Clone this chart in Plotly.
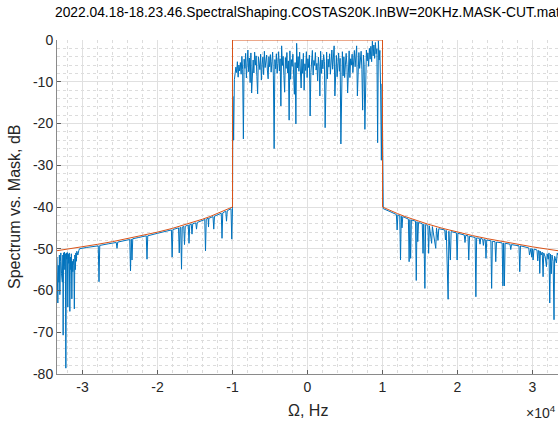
import numpy as np
import plotly.graph_objects as go

TITLE = "2022.04.18-18.23.46.SpectralShaping.COSTAS20K.InBW=20KHz.MASK-CUT.mat"

# Spectral mask (Hz, dB)
mask_freq = [-33400, -32000, -30000, -28000, -26000, -24000, -22000, -20000,
             -18000, -16000, -15000, -14000, -13000, -12000, -11000, -10000,
             -10000, 10000,
             10000, 11000, 12000, 13000, 14000, 15000, 16000, 18000,
             20000, 22000, 24000, 26000, 28000, 30000, 32000, 33400]
mask_db = [-50.47, -50.10, -49.54, -48.94, -48.30, -47.60, -46.85, -46.02,
           -45.11, -44.08, -43.52, -42.92, -42.28, -41.58, -40.83, -40.00,
           0.0, 0.0,
           -40.00, -40.83, -41.58, -42.28, -42.92, -43.52, -44.08, -45.11,
           -46.02, -46.85, -47.60, -48.30, -48.94, -49.54, -50.10, -50.47]

# Measured spectrum, lower stop band (Hz, dB)
low_freq = [-33400, -33350, -33290, -33220, -33150, -33080, -33020, -32950,
            -32890, -32800, -32690, -32620, -32580, -32530, -32490, -32420,
            -32360, -32290, -32220, -32150, -32090, -32020, -31960, -31890,
            -31820, -31760, -31690, -31620, -31560, -31490, -31420, -31360,
            -31290, -31220, -31150, -31090, -31020, -30950, -30890, -30820,
            -30760, -30620, -30490, -30400,
            -29500, -28500, -27900, -27800, -27700, -26500, -25500, -25400,
            -25300, -24000, -23700, -23600, -23500, -23400, -23300, -22500,
            -21500, -21400, -21300, -20000, -19000, -18150, -18050, -17950,
            -17200, -17100, -17000, -16900, -16800, -16700, -16500, -16400,
            -16300, -15900, -15800, -15700, -15500, -15400, -15300, -14900,
            -14800, -14700, -13700, -13600, -13500, -13250, -13200, -13150,
            -12600, -12500, -12400, -11500, -11400, -11300, -10900, -10800,
            -10700, -10200, -10100, -10000]
low_db = [-52.0, -60.5, -63.0, -54.0, -58.0, -51.5, -61.0, -53.0,
          -51.0, -56.0, -58.0, -51.5, -70.7, -51.0, -54.0, -50.8,
          -55.0, -51.2, -78.6, -51.0, -52.5, -50.9, -64.0, -51.3,
          -53.5, -51.0, -65.0, -52.0, -55.0, -51.2, -62.0, -53.0,
          -55.5, -52.5, -54.0, -64.4, -51.5, -55.0, -51.0, -53.0,
          -50.6, -51.5, -50.4, -50.0,
          -49.7, -49.4, -49.3, -57.9, -49.2, -48.8, -48.5, -49.9,
          -48.4, -47.9, -47.8, -55.3, -47.7, -52.7, -47.6, -47.3,
          -46.9, -52.5, -46.9, -46.3, -45.9, -45.5, -52.0, -45.4,
          -45.0, -51.0, -44.9, -44.9, -54.9, -44.8, -44.6, -49.0,
          -44.6, -44.3, -48.7, -44.2, -44.1, -46.5, -44.0, -43.8,
          -45.3, -43.7, -43.0, -50.5, -42.9, -42.7, -44.8, -42.7,
          -42.3, -45.3, -42.2, -41.5, -47.5, -41.4, -41.0, -43.4,
          -40.9, -40.4, -47.7, -40.3]

# Measured spectrum, pass band: 100 Hz bins from -9950 Hz to +9950 Hz (dB)
pass_start_hz = -9950
pass_step_hz = 100
pass_db = [
    -13.5, -24.0, -9.5, -8.0, -6.5, -7.8, -5.2, -8.9, -6.0, -7.4,
    -5.4, -8.2, -3.9, -7.0, -23.7, -4.6, -6.8, -3.2, -9.1, -5.5,
    -2.4, -7.6, -4.3, -10.2, -3.1, -12.7, -5.5, -4.8, -7.9, -2.9,
    -6.0, -3.8, -8.7, -12.9, -4.0, -6.2, -7.1, -3.4, -9.6, -5.9,
    -4.1, -8.3, -2.7, -6.6, -5.3, -3.6, -7.2, -9.3, -4.0, -6.4,
    -3.5, -7.7, -5.2, -2.9, -8.6, -26.0, -4.7, -6.9, -3.3, -8.0,
    -5.6, -2.8, -7.4, -4.5, -15.8, -1.4, -6.1, -3.9, -8.5, -12.5,
    -4.2, -6.8, -3.0, -7.9, -5.0, -19.2, -2.6, -9.4, -4.7, -6.3,
    -3.4, -8.1, -13.0, -5.4, -20.1, -0.8, -6.7, -4.0, -7.5, -2.9,
    -6.2, -11.5, -4.6, -8.0, -3.2, -12.0, -5.7, -7.3, -2.8, -9.0,
    -4.5, -6.6, -3.6, -18.2, -7.8, -5.1, -2.5, -8.4, -4.9, -6.1,
    -3.0, -7.2, -5.6, -9.8, -4.1, -6.3, -13.4, -2.7, -8.0, -4.8,
    -6.9, -3.5, -5.2, -21.0, -7.7, -2.9, -9.3, -4.6, -6.5, -3.3,
    -8.2, -5.0, -2.4, -7.0, -4.3, -1.4, -13.4, -6.0, -3.7, -8.8,
    -5.3, -3.1, -7.5, -4.4, -24.9, -6.2, -2.8, -8.6, -4.0, -9.0,
    -6.7, -3.2, -5.8, -12.7, -7.9, -2.6, -9.0, -4.5, -6.0, -3.4,
    -7.8, -4.9, -2.5, -6.4, -4.0, -1.4, -13.4, -8.2, -3.0, -6.8,
    -4.2, -2.7, -7.1, -16.8, -3.6, -5.9, -21.4, -14.8, -2.4, -5.0,
    -3.1, -6.3, -2.0, -4.6, -1.5, -5.2, -0.3, -3.8, -1.2, -4.4,
    -0.6, -3.3, -2.1, -24.6, -0.2, -4.8, -2.5, -12.0, -28.8, -10.5,
]

# Measured spectrum, upper stop band (Hz, dB)
high_freq = [10000, 10100, 11000, 11850, 11950, 12050, 12300, 12400, 12500,
             12600, 12700, 13450, 13550, 13650, 13750, 13850, 14400, 14500,
             14600, 14700, 14800, 15300, 15400, 15500, 15650, 15750, 16050,
             16150, 16250, 16550, 16650, 17100, 17200, 17400, 17500, 18300,
             18400, 18500, 18750, 18850, 19050, 19150, 19850, 19950, 20050,
             20900, 21000, 21100, 21400, 21500, 21600, 22350, 22450, 22550,
             22900, 23000, 23100, 23350, 23450, 23550, 23700, 23800, 23900,
             24450, 24550, 24650, 25000, 25100, 25200, 25950, 26050, 26150,
             26250, 26350, 27000, 27100, 27200, 28200, 28300, 28400, 29500,
             29600, 29800, 29900, 30000, 30080, 30200, 30600, 30700, 30800,
             30900, 30970, 31050, 31150, 31300, 31410, 31500, 31700, 31860,
             31950, 32100, 32200, 32300, 32400, 32500, 32600, 32750, 32870,
             32950, 33100, 33190, 33300, 33400]
high_db = [-36.0, -40.4, -41.1, -41.8, -45.5, -41.9, -42.1, -52.7, -42.2,
           -45.0, -42.3, -42.9, -53.1, -43.0, -52.3, -43.1, -43.4, -57.6,
           -43.5, -48.3, -43.7, -44.0, -51.1, -44.1, -59.5, -44.2, -44.4,
           -51.1, -44.5, -48.7, -44.7, -49.9, -45.0, -48.0, -45.2, -45.5,
           -47.9, -45.6, -62.1, -45.8, -52.7, -45.9, -46.2, -52.7, -46.3,
           -46.7, -48.5, -46.8, -46.9, -52.7, -47.0, -47.3, -61.5, -47.4,
           -47.5, -48.9, -47.5, -47.7, -49.2, -47.7, -47.8, -52.3, -47.9,
           -48.1, -59.5, -48.2, -48.3, -53.1, -48.4, -48.6, -58.9, -48.6,
           -58.9, -48.7, -48.9, -50.2, -49.0, -49.3, -55.5, -49.3, -49.8,
           -51.5, -49.9, -52.0, -50.0, -52.7, -50.1, -50.3, -52.9, -50.4,
           -50.5, -55.9, -50.6, -51.5, -50.8, -56.7, -51.0, -52.0, -54.3,
           -51.2, -52.5, -51.0, -63.0, -51.3, -56.0, -51.5, -53.0, -67.0,
           -51.8, -52.5, -53.4, -51.0, -51.5]

pass_freq = [pass_start_hz + pass_step_hz * k for k in range(len(pass_db))]
spec_freq = low_freq + pass_freq + high_freq
spec_db = low_db + pass_db + high_db

FONT = "Liberation Sans, Arial, Helvetica, sans-serif"
TXT = "#262626"

# plot-area geometry in pixels
W, H = 558, 426
ML, MR, MT, MB = 57, 0, 40, 52
h_plot = H - MT - MB
w_plot = W - ML - MR

fig = go.Figure()
fig.add_trace(go.Scatter(x=spec_freq, y=spec_db, mode="lines",
                         line=dict(color="#0072BD", width=1), name="spectrum",
                         hoverinfo="skip"))
fig.add_trace(go.Scatter(x=mask_freq, y=mask_db, mode="lines",
                         line=dict(color="#D95319", width=1), name="mask",
                         hoverinfo="skip"))

xt = [-30000, -20000, -10000, 0, 10000, 20000, 30000]
yt = [0, -10, -20, -30, -40, -50, -60, -70, -80]

fig.update_layout(
    width=W, height=H,
    margin=dict(l=ML, r=MR, t=MT, b=MB),
    paper_bgcolor="white", plot_bgcolor="white",
    showlegend=False,
    font=dict(family=FONT, size=14, color=TXT),
    xaxis=dict(
        range=[-33400, 33400], showgrid=True, gridcolor="#e0e0e0", gridwidth=1,
        zeroline=False, showline=True, linecolor="#8a8a8a", linewidth=1,
        ticks="inside", ticklen=4, tickcolor="#606060",
        tickvals=xt, ticktext=[str(v // 10000) for v in xt],
        tickfont=dict(size=14, color=TXT),
        minor=dict(dtick=2000, tick0=0, showgrid=True, gridcolor="#dcdcdc",
                   griddash="dot", gridwidth=1, ticks=""),
    ),
    yaxis=dict(
        range=[-80, 0], showgrid=True, gridcolor="#e0e0e0", gridwidth=1,
        zeroline=False, showline=True, linecolor="#8a8a8a", linewidth=1,
        ticks="inside", ticklen=4, tickcolor="#606060",
        tickvals=yt, ticktext=[str(v) for v in yt],
        tickfont=dict(size=14, color=TXT),
        minor=dict(dtick=2, tick0=0, showgrid=True, gridcolor="#dcdcdc",
                   griddash="dot", gridwidth=1, ticks=""),
    ),
    annotations=[
        dict(text=TITLE, x=0, xref="x", y=1 + (MT - 13) / h_plot, yref="paper",
             xanchor="center", yanchor="middle", showarrow=False,
             font=dict(size=13.8, color="#000000")),
        dict(text="Ω, Hz", x=0, xref="x", y=-(410 - (H - MB)) / h_plot,
             yref="paper", xanchor="center", yanchor="middle",
             showarrow=False, font=dict(size=16, color=TXT)),
        dict(text="Spectrum vs. Mask, dB", x=-(ML - 14) / w_plot, xref="paper",
             y=0.5, yref="paper", textangle=-90, showarrow=False,
             xanchor="center", yanchor="middle",
             font=dict(size=16, color=TXT)),
        dict(text="×10<sup>4</sup>", x=1, xref="paper",
             y=-(412 - (H - MB)) / h_plot, yref="paper",
             xanchor="right", yanchor="middle", showarrow=False,
             font=dict(size=14, color=TXT)),
    ],
)

fig.write_html("out.html")
